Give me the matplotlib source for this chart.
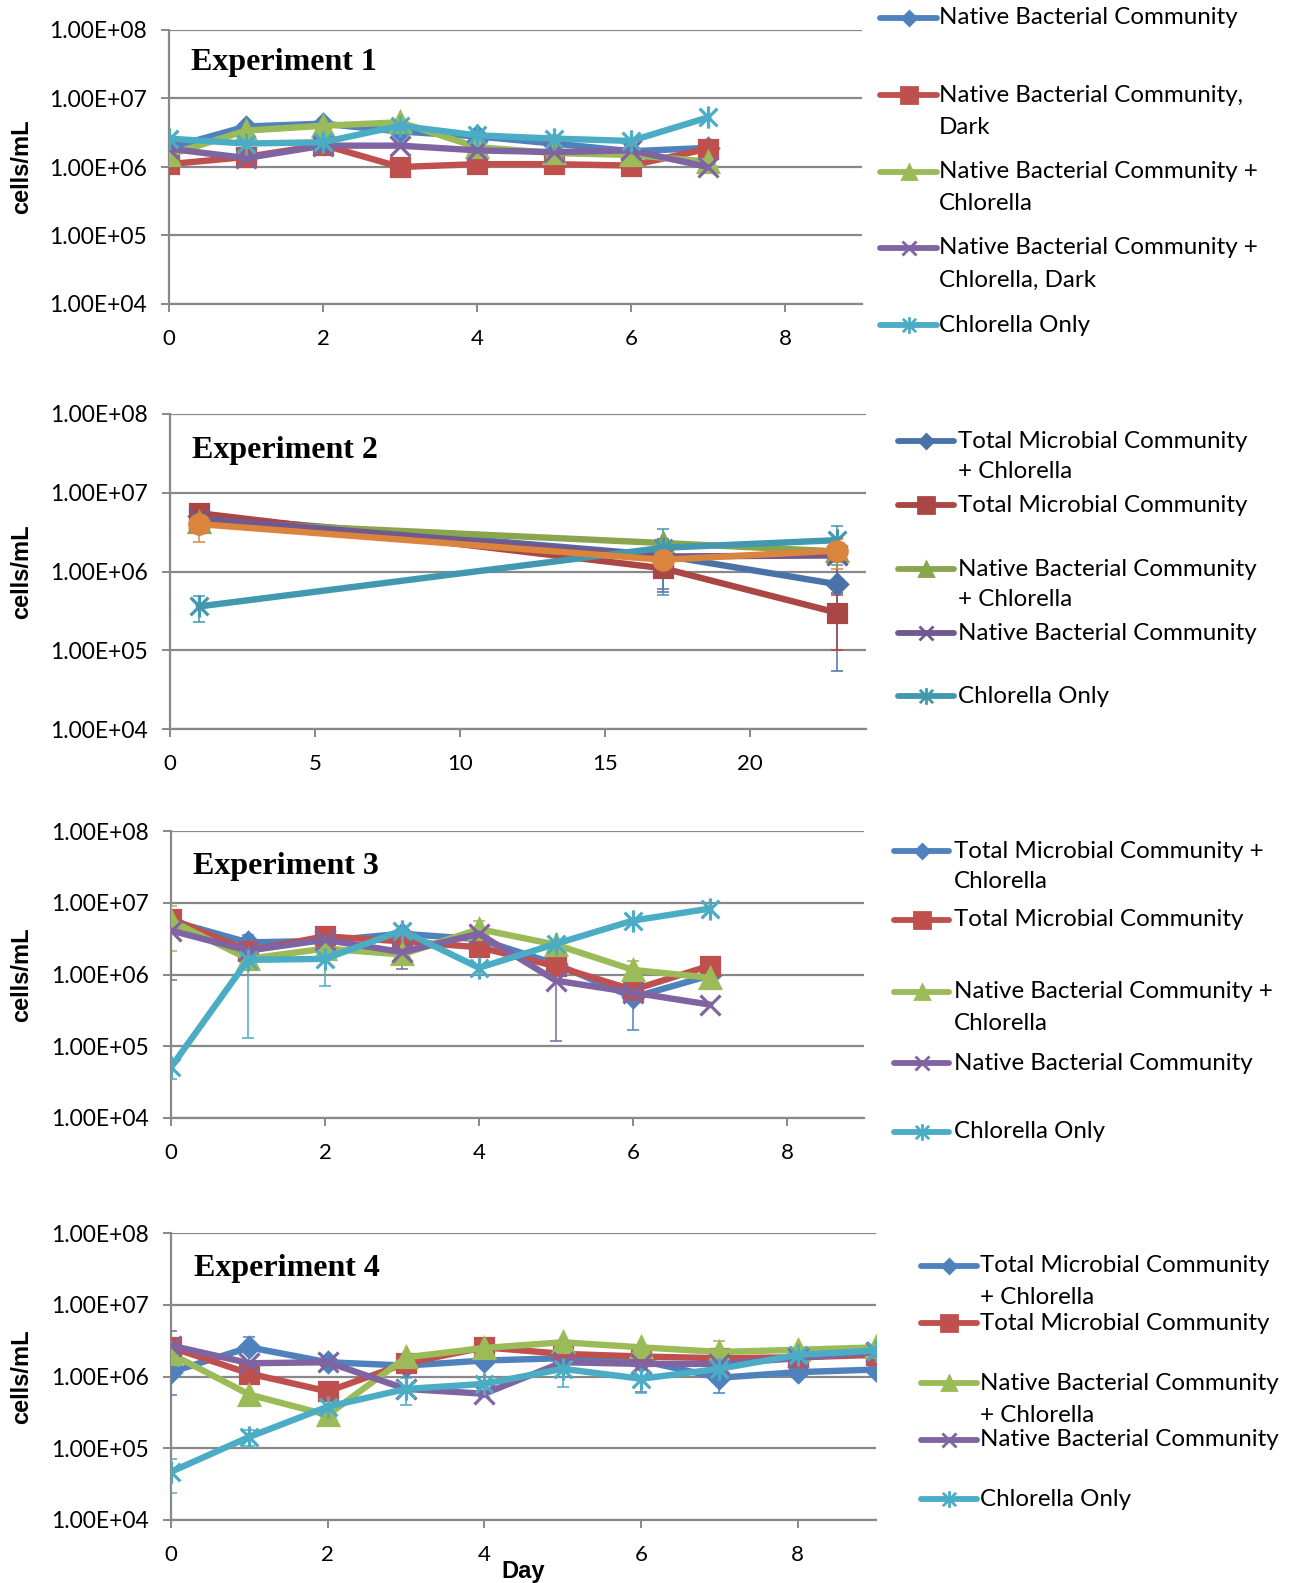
import numpy as np
import matplotlib
matplotlib.use('Agg')
import matplotlib.pyplot as plt
from matplotlib.lines import Line2D
from matplotlib.path import Path
from matplotlib.ticker import FixedLocator, FuncFormatter, NullLocator

W, H = 1296, 1583
plt.rcParams['font.family'] = ['Lato', 'DejaVu Sans']

# ---------------- Experiment 1 ----------------
exp1_days = [0, 1, 2, 3, 4, 5, 6, 7]
exp1_nbc = [1.9e6, 3.9e6, 4.3e6, 3.3e6, 2.8e6, 2.2e6, 1.7e6, 1.9e6]
exp1_nbc_dark = [1.1e6, 1.4e6, 2.1e6, 1.0e6, 1.1e6, 1.1e6, 1.05e6, 1.85e6]
exp1_nbc_chl = [1.5e6, 3.4e6, 4.0e6, 4.5e6, 1.95e6, 1.6e6, 1.5e6, 1.2e6]
exp1_nbc_chl_dark = [1.85e6, 1.35e6, 2.05e6, 2.05e6, 1.75e6, 1.65e6, 1.75e6, 1.0e6]
exp1_chl_only = [2.6e6, 2.2e6, 2.3e6, 4.0e6, 2.9e6, 2.6e6, 2.4e6, 5.3e6]
exp1_labels = ["Native Bacterial Community",
               "Native Bacterial Community,\nDark",
               "Native Bacterial Community +\nChlorella",
               "Native Bacterial Community +\nChlorella, Dark",
               "Chlorella Only"]

# ---------------- Experiment 2 ----------------
exp2_days = [1, 17, 23]
exp2_tmc_chl = [5.0e6, 1.6e6, 6.9e5]
exp2_tmc = [5.5e6, 1.1e6, 3.0e5]
exp2_nbc_chl = [4.3e6, 2.3e6, 1.8e6]
exp2_nbc = [4.7e6, 1.55e6, 1.6e6]
exp2_chl_only = [3.6e5, 2.0e6, 2.5e6]
exp2_extra = [4.0e6, 1.41e6, 1.84e6]
exp2_err_tmc_chl = [np.nan, 1.0e6, 6.35e5]
exp2_err_tmc = [np.nan, np.nan, 2.0e5]
exp2_err_nbc_chl = [np.nan, np.nan, np.nan]
exp2_err_nbc = [np.nan, 1.0e6, 1.06e6]
exp2_err_chl_only = [1.3e5, 1.5e6, 1.3e6]
exp2_err_extra = [1.6e6, np.nan, 7.7e5]
exp2_labels = ["Total Microbial Community\n+ Chlorella",
               "Total Microbial Community",
               "Native Bacterial Community\n+ Chlorella",
               "Native Bacterial Community",
               "Chlorella Only"]

# ---------------- Experiment 3 ----------------
exp3_days = [0, 1, 2, 3, 4, 5, 6, 7]
exp3_tmc_chl = [5.6e6, 2.8e6, 2.95e6, 3.7e6, 3.1e6, 1.4e6, 4.8e5, 9.7e5]
exp3_tmc = [6.0e6, 2.15e6, 3.4e6, 2.9e6, 2.4e6, 1.3e6, 6.1e5, 1.33e6]
exp3_nbc_chl = [5.6e6, 1.65e6, 2.3e6, 1.9e6, 4.3e6, 2.6e6, 1.16e6, 9.0e5]
exp3_nbc = [4.1e6, 2.15e6, 3.05e6, 2.05e6, 3.7e6, 8.2e5, 5.6e5, 3.8e5]
exp3_chl_only = [5.1e4, 1.6e6, 1.65e6, 4.1e6, 1.24e6, 2.68e6, 5.65e6, 8.3e6]
exp3_err_tmc_chl = [np.nan, 8.0e5, np.nan, np.nan, np.nan, np.nan, 3.1e5, np.nan]
exp3_err_tmc = [np.nan] * 8
exp3_err_nbc_chl = [3.5e6, np.nan, np.nan, np.nan, 1.3e6, np.nan, 4.0e5, np.nan]
exp3_err_nbc = [3.26e6, np.nan, np.nan, 8.5e5, np.nan, 7.0e5, np.nan, np.nan]
exp3_err_chl_only = [1.6e4, 1.47e6, 9.5e5, np.nan, np.nan, np.nan, np.nan, np.nan]
exp3_labels = ["Total Microbial Community +\nChlorella",
               "Total Microbial Community",
               "Native Bacterial Community +\nChlorella",
               "Native Bacterial Community",
               "Chlorella Only"]

# ---------------- Experiment 4 ----------------
exp4_days = [0, 1, 2, 3, 4, 5, 6, 7, 8, 9]
exp4_tmc_chl = [1.15e6, 2.55e6, 1.58e6, 1.42e6, 1.67e6, 1.8e6, 1.67e6, 9.6e5, 1.15e6, 1.25e6]
exp4_tmc = [2.55e6, 1.1e6, 6.2e5, 1.53e6, 2.55e6, 2.07e6, 1.9e6, 1.8e6, 1.85e6, 2.0e6]
exp4_nbc_chl = [2.07e6, 5.6e5, 2.9e5, 1.85e6, 2.5e6, 3.0e6, 2.55e6, 2.2e6, 2.35e6, 2.55e6]
exp4_nbc = [2.7e6, 1.53e6, 1.58e6, 6.7e5, 5.75e5, 1.58e6, 1.5e6, 1.5e6, 1.8e6, 2.2e6]
exp4_chl_only = [4.7e4, 1.44e5, 3.8e5, 6.7e5, 7.9e5, 1.28e6, 9.3e5, 1.28e6, 2.0e6, 2.3e6]
exp4_err_tmc_chl = [6.0e5, 1.05e6, np.nan, np.nan, np.nan, np.nan, np.nan, 3.7e5, np.nan, np.nan]
exp4_err_tmc = [np.nan] * 10
exp4_err_nbc_chl = [np.nan, np.nan, 7.5e4, np.nan, np.nan, np.nan, np.nan, 9.0e5, np.nan, np.nan]
exp4_err_nbc = [1.65e6, np.nan, np.nan, np.nan, 5.0e4, np.nan, 9.0e5, np.nan, np.nan, np.nan]
exp4_err_chl_only = [2.35e4, 3.5e4, 1.5e5, 2.75e5, np.nan, 5.7e5, 3.4e5, np.nan, np.nan, np.nan]
exp4_labels = exp2_labels

yticks = [1e4, 1e5, 1e6, 1e7, 1e8]

# excel-like colours
BLUE, RED, GREEN, PURPLE, CYAN = '#4F81BD', '#C0504D', '#9BBB59', '#8064A2', '#4BACC6'
DBLUE, DRED, DGREEN, DPURPLE, DCYAN, ORANGE = '#4A72A9', '#AA4643', '#89A54E', '#71588F', '#4198AF', '#DB843D'
GRID = '#888888'

# asterisk marker: an x with a vertical bar through it
STAR = Path([(-1, -1), (1, 1), (-1, 1), (1, -1), (0, -1.25), (0, 1.25)],
            [Path.MOVETO, Path.LINETO, Path.MOVETO, Path.LINETO, Path.MOVETO, Path.LINETO])

MARKERS = [('D', 10.5), ('s', 13), ('^', 14), ('x', 14), (STAR, 16)]
LEG_MARKERS = [('D', 7.5), ('s', 11), ('^', 10), ('x', 10), (STAR, 12)]


def draw_series(ax, x, y, err, color, marker, ms):
    x = np.asarray(x, float)
    y = np.asarray(y, float)
    err = np.asarray(err, float)
    ok = ~np.isnan(err)
    if ok.any():
        ax.errorbar(x[ok], y[ok], yerr=err[ok], fmt='none', ecolor=color,
                    elinewidth=1.1, capsize=4.5, capthick=1.1, zorder=3)
    ax.plot(x, y, color=color, lw=4.6, marker=marker, ms=ms,
            mfc=color, mec=color, mew=2.3, zorder=4, solid_joinstyle='round')


def style_axes(ax, xmax, xticks, title, title_y):
    ax.set_yscale('log')
    ax.set_ylim(1e4, 1e8)
    ax.set_xlim(0, xmax)
    ax.yaxis.set_major_locator(FixedLocator(yticks))
    ax.yaxis.set_minor_locator(NullLocator())
    ax.yaxis.set_major_formatter(FuncFormatter(lambda v, p: f"{v:.2E}"))
    ax.set_xticks(xticks)
    ax.set_xticklabels([str(t) for t in xticks])
    ax.grid(axis='y', color=GRID, lw=1.6, zorder=0)
    ax.set_axisbelow(True)
    for s in ['top', 'right']:
        ax.spines[s].set_visible(False)
    for s in ['left', 'bottom']:
        ax.spines[s].set_color(GRID)
        ax.spines[s].set_linewidth(1.6)
    ax.tick_params(axis='y', direction='out', length=6, width=1.4, color=GRID,
                   labelsize=16.5, pad=10)
    ax.tick_params(axis='x', direction='out', length=6, width=1.4, color=GRID,
                   labelsize=16, pad=12)
    ax.text(0.032, title_y, title, transform=ax.transAxes, ha='left', va='center',
            fontsize=23, fontweight='bold', family='Liberation Serif')


def draw_legend(fig, labels, colors, ys, x0, x1, xt, line_gap):
    for lab, col, y, (mk, ms) in zip(labels, colors, ys, LEG_MARKERS):
        yf = 1 - y / H
        fig.add_artist(Line2D([x0 / W, x1 / W], [yf, yf], transform=fig.transFigure,
                              color=col, lw=4.2, solid_capstyle='round'))
        fig.add_artist(Line2D([(x0 + x1) / 2 / W], [yf], transform=fig.transFigure,
                              color=col, marker=mk, ms=ms, mfc=col, mec=col, mew=2, lw=0))
        for i, line in enumerate(lab.split('\n')):
            fig.text(xt / W, 1 - (y + i * line_gap) / H, line, ha='left', va='center',
                     fontsize=17.4, color='black')


fig = plt.figure(figsize=(W / 100, H / 100), dpi=100)

# axes rectangles from pixel extents (left, right, top, bottom)
extents = [(169, 862, 30, 304), (170, 866, 414, 729), (171, 864, 831, 1118), (171, 876, 1233, 1520)]
axes = []
for l, r, t, b in extents:
    axes.append(fig.add_axes([l / W, 1 - b / H, (r - l) / W, (b - t) / H]))

# Experiment 1
ax = axes[0]
cols1 = [BLUE, RED, GREEN, PURPLE, CYAN]
nan8 = [np.nan] * 8
for ys, col, (mk, ms) in zip([exp1_nbc, exp1_nbc_dark, exp1_nbc_chl, exp1_nbc_chl_dark, exp1_chl_only],
                             cols1, MARKERS):
    draw_series(ax, exp1_days, ys, nan8, col, mk, ms)
style_axes(ax, 9, [0, 2, 4, 6, 8], "Experiment 1", 0.883)
draw_legend(fig, exp1_labels, cols1, [18, 95, 172, 248, 325], 880, 937, 939, 32)

# Experiment 2
ax = axes[1]
cols2 = [DBLUE, DRED, DGREEN, DPURPLE, DCYAN]
series2 = [(exp2_tmc_chl, exp2_err_tmc_chl), (exp2_tmc, exp2_err_tmc),
           (exp2_nbc_chl, exp2_err_nbc_chl), (exp2_nbc, exp2_err_nbc),
           (exp2_chl_only, exp2_err_chl_only)]
for (ys, es), col, (mk, ms) in zip(series2, cols2, MARKERS):
    draw_series(ax, exp2_days, ys, es, col, mk, ms)
draw_series(ax, exp2_days, exp2_extra, exp2_err_extra, ORANGE, 'o', 14)
style_axes(ax, 24, [0, 5, 10, 15, 20], "Experiment 2", 0.883)
draw_legend(fig, exp2_labels, cols2, [441, 505, 569, 633, 696], 898, 954, 958, 31)

# Experiment 3
ax = axes[2]
series3 = [(exp3_tmc_chl, exp3_err_tmc_chl), (exp3_tmc, exp3_err_tmc),
           (exp3_nbc_chl, exp3_err_nbc_chl), (exp3_nbc, exp3_err_nbc),
           (exp3_chl_only, exp3_err_chl_only)]
for (ys, es), col, (mk, ms) in zip(series3, cols1, MARKERS):
    draw_series(ax, exp3_days, ys, es, col, mk, ms)
style_axes(ax, 9, [0, 2, 4, 6, 8], "Experiment 3", 0.878)
draw_legend(fig, exp3_labels, cols1, [851, 920, 992, 1063, 1132], 894, 949, 954, 31)

# Experiment 4
ax = axes[3]
series4 = [(exp4_tmc_chl, exp4_err_tmc_chl), (exp4_tmc, exp4_err_tmc),
           (exp4_nbc_chl, exp4_err_nbc_chl), (exp4_nbc, exp4_err_nbc),
           (exp4_chl_only, exp4_err_chl_only)]
for (ys, es), col, (mk, ms) in zip(series4, cols1, MARKERS):
    draw_series(ax, exp4_days, ys, es, col, mk, ms)
style_axes(ax, 9, [0, 2, 4, 6, 8], "Experiment 4", 0.875)
draw_legend(fig, exp4_labels, cols1, [1266, 1323, 1383, 1440, 1499], 921, 977, 980, 32)
ax.set_xlabel("Day", fontsize=17, fontweight='bold', family='Liberation Sans')
ax.xaxis.set_label_coords(0.5, -0.14)

# y axis titles
for l, r, t, b in extents:
    fig.text(22 / W, 1 - (t + b) / 2 / H, "cells/mL", rotation=90, ha='center', va='center',
             fontsize=17, fontweight='bold', family='Liberation Sans')

fig.savefig('out.png', dpi=100)
